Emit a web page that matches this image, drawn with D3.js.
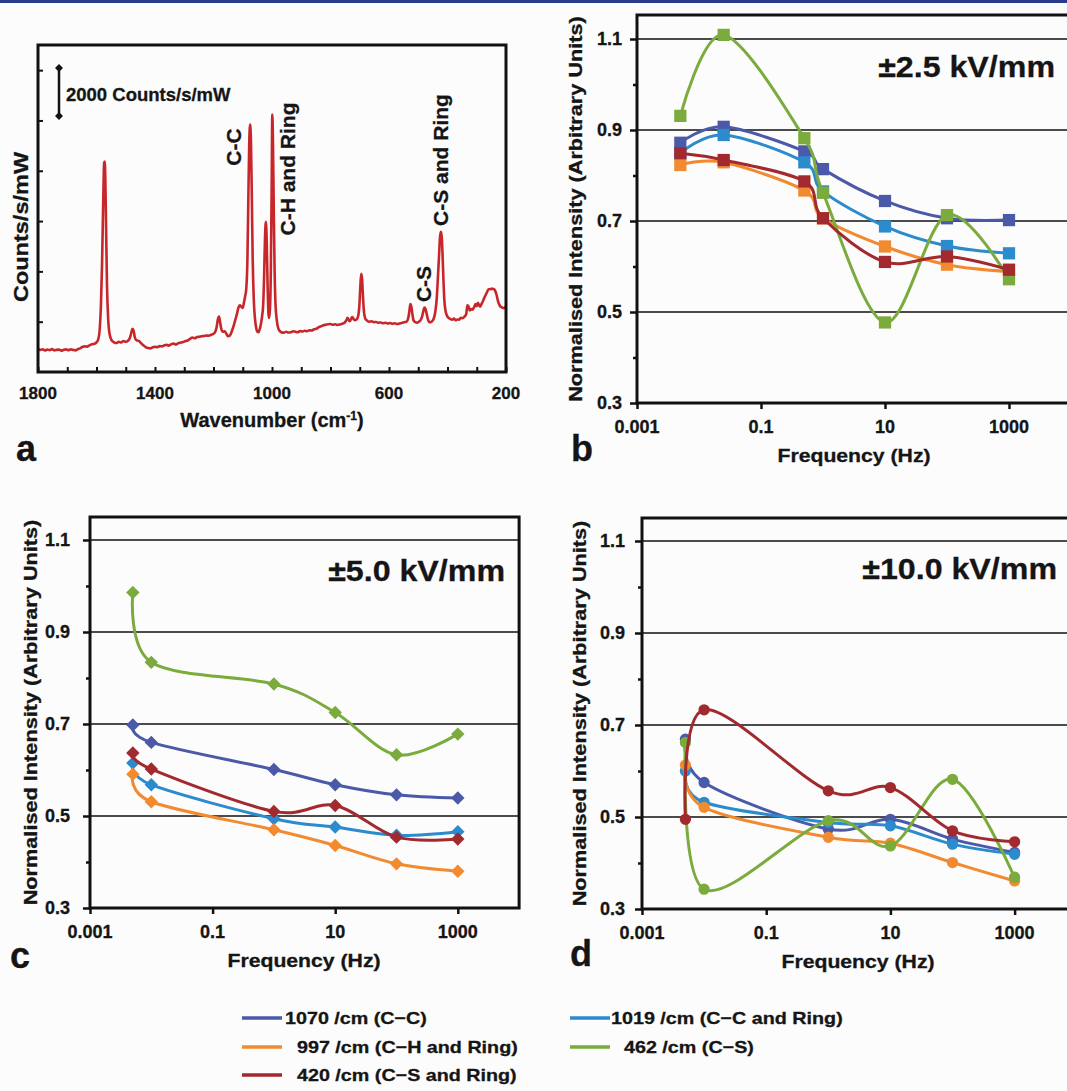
<!DOCTYPE html>
<html>
<head>
<meta charset="utf-8">
<script src="https://cdn.jsdelivr.net/npm/d3@7"></script>
<style>
  body { margin: 0; background: #fcfcfc; }
  text { font-family: "Liberation Sans", Arial, sans-serif; font-weight: bold; fill: #151515; stroke: #151515; stroke-width: 0.3px; }
</style>
</head>
<body>
<svg id="fig" width="1067" height="1091"></svg>
<script>
// ---- panel a: Raman spectrum ----
const specWn = [1800,1792,1784,1776,1768,1760,1752,1744,1736,1728,1720,1712,1704,1696,1688,1680,1672,1664,1656,1648,1640,1632,1624,1616,1608,1600,
  1594,1589,1585,1581,1577,1574,1572,1570,1567,1564,1560,1555,1548,1540,1532,1524,1516,1508,1500,1492,1486,1481,1477,1473,1469,1463,1456,1448,
  1440,1432,1424,1416,1408,1400,1392,1384,1376,1368,1360,1352,1344,1336,1328,1320,1312,1304,1296,1288,1280,1272,1264,1256,1248,1240,1232,1224,
  1216,1208,1200,1194,1189,1185,1181,1177,1173,1168,1162,1156,1150,1144,1138,1132,1126,1120,1115,1110,1105,1100,1096,1092,1088,1084,1081,1078,
  1075,1072,1069,1066,1062,1058,1054,1050,1046,1042,1038,1034,1030,1027,1024,1021,1018,1015,1012,1010,1007,1004,1001,999,997,994,991,988,984,
  980,975,968,960,952,944,936,928,920,912,904,896,888,880,872,864,856,848,840,832,824,816,808,800,792,784,776,768,760,752,746,742,738,734,730,
  726,722,716,710,705,701,698,695,692,689,686,682,676,668,660,652,644,636,628,620,612,604,596,588,580,572,564,556,548,540,534,530,527,524,520,
  516,510,504,498,492,487,483,479,475,471,467,462,456,450,445,441,437,433,429,426,423,420,417,414,411,407,402,396,390,384,378,372,366,360,354,
  348,342,336,332,328,324,320,316,312,308,304,300,296,292,288,284,280,276,272,268,264,260,256,252,248,244,240,236,232,228,224,220,216,212,208,204,200];
const specCounts = [920,880,900,860,890,870,910,860,880,890,850,880,900,870,900,880,860,910,940,1000,1020,1010,1060,1100,1120,1180,
  1300,1700,2600,4300,6800,8300,8370,7800,5600,3400,2100,1500,1250,1180,1150,1200,1170,1230,1200,1250,1350,1560,1720,1640,1380,1260,1240,1150,
  1060,990,950,940,980,1000,990,1030,1020,1060,1080,1050,1110,1130,1090,1150,1170,1190,1230,1250,1320,1370,1340,1390,1400,1420,1430,1450,
  1440,1480,1520,1600,1800,2100,2200,1950,1700,1600,1620,1520,1420,1450,1600,1800,2050,2300,2550,2650,2600,2550,2750,3000,3300,4500,6800,9000,
  9840,9200,7000,4500,2800,2100,1750,1600,1580,1700,1900,2200,2700,3800,5300,5970,5200,3400,2300,2150,2500,4000,7500,10240,9400,6500,4000,2700,2100,
  1800,1650,1580,1560,1600,1570,1580,1620,1600,1580,1630,1610,1640,1620,1660,1650,1700,1720,1780,1820,1860,1880,1900,1910,1880,1900,1870,1890,1920,1960,2050,2150,2080,2020,2100,
  2180,2120,2060,2100,2250,2700,3400,3900,3700,3000,2450,2150,2050,2000,2020,1980,1990,1960,1970,1940,1960,1930,1950,1920,1940,1910,1930,1950,1980,2000,2150,2450,2700,2620,2300,
  2050,1980,1960,2000,2060,2200,2400,2560,2500,2300,2100,1980,1990,2050,2200,2450,2900,3700,4600,5300,5570,5400,4700,3700,2900,2450,2250,2150,2100,2080,2120,2060,2090,2080,2150,
  2140,2200,2300,2650,2600,2450,2500,2480,2520,2600,2700,2620,2750,2650,2600,2700,2780,2900,3000,3100,3200,3280,3300,3290,3320,3300,3280,3200,3050,2850,2700,2620,2580,2560,2540,2560,2600];
const specTickLabels = [1800, 1400, 1000, 600, 200];
const specYTicks = [2000, 4000, 6000, 8000, 10000, 12000];

// ---- panels b, c, d: normalised intensity vs frequency ----
const freqB = [0.005, 0.025, 0.5, 1, 10, 100, 1000];
const freqCD = [0.005, 0.01, 1, 10, 100, 1000];
const freqTicks = [0.001, 0.1, 10, 1000];
const intTicks = [0.3, 0.5, 0.7, 0.9, 1.1];
const intMinorTicks = [0.4, 0.6, 0.8, 1.0];

const b1070 = [0.872, 0.907, 0.853, 0.814, 0.744, 0.706, 0.702];
const b1019 = [0.849, 0.889, 0.829, 0.765, 0.688, 0.645, 0.629];
const b997  = [0.823, 0.829, 0.767, 0.706, 0.644, 0.604, 0.589];
const b462  = [0.931, 1.109, 0.882, 0.762, 0.477, 0.713, 0.572];
const b420  = [0.849, 0.834, 0.787, 0.706, 0.610, 0.622, 0.593];

const c1070 = [0.698, 0.660, 0.601, 0.568, 0.546, 0.539];
const c1019 = [0.615, 0.568, 0.494, 0.476, 0.458, 0.466];
const c997  = [0.591, 0.531, 0.470, 0.436, 0.396, 0.380];
const c462  = [0.986, 0.834, 0.787, 0.725, 0.633, 0.678];
const c420  = [0.637, 0.602, 0.510, 0.523, 0.454, 0.450];

const d1070 = [0.669, 0.575, 0.474, 0.495, 0.452, 0.423];
const d1019 = [0.600, 0.532, 0.488, 0.481, 0.441, 0.419];
const d997  = [0.613, 0.521, 0.456, 0.443, 0.401, 0.361];
const d462  = [0.662, 0.343, 0.492, 0.437, 0.582, 0.369];
const d420  = [0.495, 0.733, 0.557, 0.564, 0.470, 0.446];

const seriesNames = ['1070 /cm (C\u2212C)', '1019 /cm (C\u2212C and Ring)', '997 /cm (C\u2212H and Ring)', '462 /cm (C\u2212S)', '420 /cm (C\u2212S and Ring)'];
const seriesColors = ['#4a59a8', '#2b8bcc', '#f28a30', '#7aab3c', '#a2292e'];

const svg = d3.select('#fig');
svg.append('rect').attr('width', 1067).attr('height', 1091).attr('fill', '#fcfcfc');
svg.append('rect').attr('width', 1067).attr('height', 3).attr('fill', '#2c3a8e');

// text helper, sx stretches the glyphs along the writing direction
function label(x, y, txt, size, o = {}) {
    return svg.append('text')
        .attr('transform', `translate(${x},${y}) rotate(${o.rot || 0}) scale(${o.sx || 1},1)`)
        .attr('text-anchor', o.anchor || 'start')
        .style('font-size', size + 'px')
        .text(txt);
}

function styleAxis(g, w) {
    g.select('.domain').remove();
    g.selectAll('line').attr('stroke', '#111').attr('stroke-width', w);
}

// ================= panel a =================
const xA = d3.scaleLinear().domain([1800, 200]).range([38, 506]);
const yA = d3.scaleLinear().domain([0, 13000]).range([372, 45]);

svg.append('g').attr('transform', 'translate(0,372)')
    .call(d3.axisBottom(xA).tickValues(d3.range(200, 1801, 100)).tickSize(-5).tickFormat(''))
    .call(g => styleAxis(g, 2));
svg.append('g').attr('transform', 'translate(38,0)')
    .call(d3.axisLeft(yA).tickValues(specYTicks).tickSize(-5).tickFormat(''))
    .call(g => styleAxis(g, 2));

svg.append('path')
    .datum(d3.zip(specWn, specCounts))
    .attr('d', d3.line().x(d => xA(d[0])).y(d => yA(d[1])).curve(d3.curveMonotoneX))
    .attr('fill', 'none')
    .attr('stroke', '#c7262b')
    .attr('stroke-width', 2.6)
    .attr('stroke-linejoin', 'round');

svg.append('rect')
    .attr('x', 38).attr('y', 45).attr('width', 468).attr('height', 327)
    .attr('fill', 'none').attr('stroke', '#111').attr('stroke-width', 3);

specTickLabels.forEach(v => label(xA(v), 399, v, 17, {anchor: 'middle'}));

const xl = label(272, 427, 'Wavenumber (cm', 20, {anchor: 'middle'});
xl.append('tspan').attr('dy', -7).style('font-size', '12px').text('-1');
xl.append('tspan').attr('dy', 7).text(')');
label(28, 227, 'Counts/s/mW', 21, {rot: -90, anchor: 'middle', sx: 1.12});
label(16, 461, 'a', 36);

// scale bar
svg.append('line').attr('x1', 59).attr('x2', 59).attr('y1', 68).attr('y2', 116)
    .attr('stroke', '#111').attr('stroke-width', 2.5);
[68, 116].forEach(yy => svg.append('path')
    .attr('transform', `translate(59,${yy})`)
    .attr('d', d3.symbol(d3.symbolDiamond2, 40)())
    .attr('fill', '#111'));
label(66, 101, '2000 Counts/s/mW', 18.5);

// peak assignments
label(241, 147, 'C-C', 21, {rot: -90, anchor: 'middle'});
label(295, 169, 'C-H and Ring', 21, {rot: -90, anchor: 'middle'});
label(431, 284, 'C-S', 21, {rot: -90, anchor: 'middle'});
label(448, 160, 'C-S and Ring', 21, {rot: -90, anchor: 'middle'});

// ================= panels b, c, d =================
function drawFreqPanel(cfg) {
    const x = d3.scaleLog().domain([0.001, 10000]).range([cfg.left, cfg.left + 7 * cfg.decade]);
    const y = d3.scaleLinear().domain([0.3, 1.1]).range([cfg.y03, cfg.y11]);
    const g = svg.append('g');

    // grid lines
    g.selectAll('.grid').data([0.5, 0.7, 0.9, 1.1]).enter().append('line')
        .attr('x1', x(0.001)).attr('x2', x(10000))
        .attr('y1', d => y(d)).attr('y2', d => y(d))
        .attr('stroke', '#111').attr('stroke-width', 1.4);

    g.append('g').attr('transform', `translate(0,${y(0.3)})`)
        .call(d3.axisBottom(x).tickValues(freqTicks).tickSize(6).tickFormat(''))
        .call(a => styleAxis(a, 2.5));
    g.append('g').attr('transform', `translate(${x(0.001)},0)`)
        .call(d3.axisLeft(y).tickValues(intTicks).tickSize(7).tickFormat(''))
        .call(a => styleAxis(a, 2.5));
    g.append('g').attr('transform', `translate(${x(0.001)},0)`)
        .call(d3.axisLeft(y).tickValues(intMinorTicks).tickSize(4).tickFormat(''))
        .call(a => styleAxis(a, 2.5));

    const line = d3.line().x(d => x(d[0])).y(d => y(d[1])).curve(d3.curveCardinal.tension(0));
    cfg.series.forEach((vals, i) => {
        const pts = d3.zip(cfg.freqs, vals);
        g.append('path').datum(pts).attr('d', line)
            .attr('fill', 'none').attr('stroke', seriesColors[i])
            .attr('stroke-width', 3).attr('stroke-linejoin', 'round');
        g.selectAll('.m' + i).data(pts).enter().append('path')
            .attr('transform', d => `translate(${x(d[0])},${y(d[1])}) rotate(${cfg.rot})`)
            .attr('d', d3.symbol(cfg.symbol, cfg.symSize)())
            .attr('fill', seriesColors[i]);
    });

    g.append('rect')
        .attr('x', x(0.001)).attr('y', cfg.top)
        .attr('width', x(10000) - x(0.001)).attr('height', y(0.3) - cfg.top)
        .attr('fill', 'none').attr('stroke', '#111').attr('stroke-width', 3);

    intTicks.forEach(v => label(cfg.yLabEnd, y(v) + 6, v.toFixed(1), 18, {anchor: 'end'}));
    freqTicks.forEach(v => label(x(v), y(0.3) + 30, d3.format('~g')(v), 18, {anchor: 'middle'}));

    label(cfg.titleEnd, cfg.titleBase, cfg.title, 29, {anchor: 'end', sx: 1.11});
    label(cfg.yTitleX, (cfg.top + y(0.3)) / 2, 'Normalised Intensity (Arbitrary Units)', 17.5, {rot: -90, anchor: 'middle', sx: 1.24});
    label(cfg.xTitleX, y(0.3) + 59, 'Frequency (Hz)', 18.6, {anchor: 'middle', sx: 1.14});
    label(cfg.letterX, cfg.letterBase, cfg.letter, 36);
}

drawFreqPanel({
    left: 637, decade: 62, y03: 403, y11: 39, top: 15,
    freqs: freqB, series: [b1070, b1019, b997, b462, b420],
    symbol: d3.symbolSquare, symSize: 150, rot: 0,
    yLabEnd: 622, title: '\u00b12.5 kV/mm', titleEnd: 1055, titleBase: 77,
    yTitleX: 582, xTitleX: 854, letter: 'b', letterX: 571, letterBase: 461
});
drawFreqPanel({
    left: 90, decade: 61.3, y03: 908, y11: 540, top: 517,
    freqs: freqCD, series: [c1070, c1019, c997, c462, c420],
    symbol: d3.symbolSquare, symSize: 90, rot: 45,
    yLabEnd: 70, title: '\u00b15.0 kV/mm', titleEnd: 505, titleBase: 581,
    yTitleX: 37, xTitleX: 304, letter: 'c', letterX: 10, letterBase: 968
});
drawFreqPanel({
    left: 642, decade: 62.1, y03: 909, y11: 541, top: 518,
    freqs: freqCD, series: [d1070, d1019, d997, d462, d420],
    symbol: d3.symbolCircle, symSize: 100, rot: 0,
    yLabEnd: 625, title: '\u00b110.0 kV/mm', titleEnd: 1057, titleBase: 579,
    yTitleX: 586, xTitleX: 858, letter: 'd', letterX: 570, letterBase: 966
});

// ================= legend =================
const legendRows = [
    {i: 0, lx: 242, tx: 285, y: 1018},
    {i: 1, lx: 570, tx: 611, y: 1018},
    {i: 2, lx: 242, tx: 297, y: 1047},
    {i: 3, lx: 570, tx: 624, y: 1047},
    {i: 4, lx: 242, tx: 297, y: 1075}
];
legendRows.forEach(r => {
    svg.append('line').attr('x1', r.lx).attr('x2', r.lx + 40).attr('y1', r.y).attr('y2', r.y)
        .attr('stroke', seriesColors[r.i]).attr('stroke-width', 3.5);
    label(r.tx, r.y + 6, seriesNames[r.i], 17, {sx: 1.16});
});
</script>
</body>
</html>
